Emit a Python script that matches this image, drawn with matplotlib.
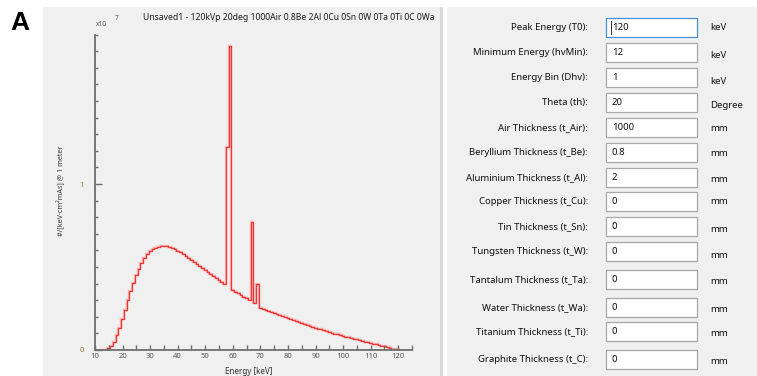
import numpy as np
import matplotlib.pyplot as plt
from matplotlib.patches import Rectangle
from matplotlib.ticker import MultipleLocator, FixedLocator

plt.rcParams['font.family'] = ['Noto Sans', 'DejaVu Sans']

# spectrum: 1 keV bins centred on 12..120 keV, values in units of 1e7
energy = np.arange(12, 121)
counts = [0.0, 0.0, 0.003, 0.010, 0.026, 0.050, 0.090, 0.135, 0.185, 0.240,
          0.300, 0.355, 0.405, 0.450, 0.490, 0.525, 0.553, 0.576, 0.594, 0.607,
          0.616, 0.622, 0.626, 0.627, 0.625, 0.621, 0.615, 0.607, 0.598, 0.588,
          0.577, 0.566, 0.554, 0.542, 0.530, 0.518, 0.506, 0.494, 0.482, 0.470,
          0.458, 0.446, 0.434, 0.422, 0.410, 0.395, 1.220, 1.830, 0.362, 0.352,
          0.342, 0.332, 0.322, 0.313, 0.304, 0.773, 0.283, 0.400, 0.252, 0.249,
          0.242, 0.236, 0.229, 0.223, 0.216, 0.210, 0.203, 0.197, 0.190, 0.184,
          0.178, 0.172, 0.166, 0.161, 0.155, 0.150, 0.144, 0.139, 0.134, 0.129,
          0.124, 0.119, 0.114, 0.109, 0.104, 0.099, 0.094, 0.090, 0.085, 0.081,
          0.077, 0.072, 0.068, 0.064, 0.059, 0.055, 0.051, 0.046, 0.042, 0.038,
          0.034, 0.030, 0.026, 0.022, 0.018, 0.013, 0.009, 0.005, 0.0]

title = "Unsaved1 - 120kVp 20deg 1000Air 0.8Be 2Al 0Cu 0Sn 0W 0Ta 0Ti 0C 0Wa"

field_labels = ["Peak Energy (T0):", "Minimum Energy (hvMin):", "Energy Bin (Dhv):",
                "Theta (th):", "Air Thickness (t_Air):", "Beryllium Thickness (t_Be):",
                "Aluminium Thickness (t_Al):", "Copper Thickness (t_Cu):",
                "Tin Thickness (t_Sn):", "Tungsten Thickness (t_W):",
                "Tantalum Thickness (t_Ta):", "Water Thickness (t_Wa):",
                "Titanium Thickness (t_Ti):", "Graphite Thickness (t_C):"]
field_values = ["120", "12", "1", "20", "1000", "0.8", "2",
                "0", "0", "0", "0", "0", "0", "0"]
field_units = ["keV", "keV", "keV", "Degree", "mm", "mm", "mm",
               "mm", "mm", "mm", "mm", "mm", "mm", "mm"]

# layout (pixels)
W, H = 757, 376
box_top = [18, 43, 68, 93, 118, 143, 168, 192, 217, 242, 270, 298, 322, 350]
unit_y = [27, 55, 81, 106, 128, 154, 179, 202, 229, 255, 282, 310, 333, 361]


def fx(x):
    return x / W


def fy(y):
    return 1 - y / H


def rect(x0, y0, x1, y1, z=1, **kw):
    r = Rectangle((fx(x0), fy(y1)), (x1 - x0) / W, (y1 - y0) / H,
                  transform=fig.transFigure, zorder=z, **kw)
    fig.add_artist(r)


fig = plt.figure(figsize=(W / 100, H / 100), dpi=100, facecolor='white')

# window panels (behind the axes)
rect(43, 7, 443, 376, z=-2, facecolor='#f0f0f0', edgecolor='none')
rect(440, 7, 443, 376, z=-2, facecolor='#dadada', edgecolor='none')
rect(447, 7, 757, 376, z=-2, facecolor='#f0f0f0', edgecolor='none')

fig.text(fx(20), fy(23), "A", fontsize=19, fontweight='bold',
         ha='center', va='center', family=['Liberation Sans', 'DejaVu Sans'])

# spectrum plot
ax = fig.add_axes([fx(95), fy(350), (412 - 95) / W, (350 - 34.6) / H])
ax.set_facecolor('#f0f0f0')
edges = np.append(energy - 0.5, energy[-1] + 0.5)
ax.stairs(counts, edges, color='#f8b4b4', linewidth=1.7)
ax.stairs(counts, edges, color='#ef3636', linewidth=0.9)
ax.set_xlim(10, 125)
ax.set_ylim(0, 1.9)
for s in ['top', 'right']:
    ax.spines[s].set_visible(False)
for s in ['left', 'bottom']:
    ax.spines[s].set_color('#6e6e6e')
    ax.spines[s].set_linewidth(1.3)
ax.xaxis.set_major_locator(MultipleLocator(10))
ax.xaxis.set_minor_locator(FixedLocator(np.arange(15, 126, 10)))
ax.yaxis.set_major_locator(FixedLocator([0, 1]))
ax.yaxis.set_minor_locator(FixedLocator(np.arange(0.1, 1.95, 0.1)))
ax.tick_params(which='both', direction='in', colors='#6e6e6e',
               labelcolor='#555555', labelsize=5.5)
ax.tick_params(axis='x', which='both', length=3.5, width=1, pad=2.5)
ax.tick_params(axis='y', which='major', length=5, width=1, pad=8)
ax.tick_params(axis='y', which='minor', length=2.5, width=1)
ax.set_yticklabels(['0', '1'], color='#a07030')

fig.text(fx(249), fy(372), "Energy [keV]", fontsize=5.8, color='#333333',
         ha='center', va='center')
fig.text(fx(61), fy(191), "#/[keV\u00b7cm\u00b2mAs] @ 1 meter", fontsize=5.2,
         color='#333333', rotation=90, ha='center', va='center')
fig.text(fx(101), fy(25), "x10", fontsize=4.8, color='#555555',
         ha='center', va='center')
fig.text(fx(117), fy(18), "7", fontsize=4.8, color='#555555',
         ha='center', va='center')
fig.text(fx(143), fy(17), title, fontsize=6.2, color='#1a1a1a',
         ha='left', va='center')

# input form
for i in range(len(field_labels)):
    top = box_top[i]
    cy = top + 9.5
    edge = '#4a90d9' if i == 0 else '#a8a8a8'
    rect(606, top, 697, top + 19, facecolor='white', edgecolor=edge,
         linewidth=0.9)
    fig.text(fx(588), fy(cy), field_labels[i], fontsize=6.9, color='#111111',
             ha='right', va='center')
    fig.text(fx(612), fy(cy), field_values[i], fontsize=6.9, color='#111111',
             ha='left', va='center')
    fig.text(fx(710), fy(unit_y[i]), field_units[i], fontsize=6.9,
             color='#111111', ha='left', va='center')

# text cursor in the first box
fig.add_artist(plt.Line2D([fx(611), fx(611)], [fy(21), fy(34)],
                          transform=fig.transFigure, color='#333333',
                          linewidth=0.7))

fig.savefig('out.png', dpi=100, facecolor='white')
